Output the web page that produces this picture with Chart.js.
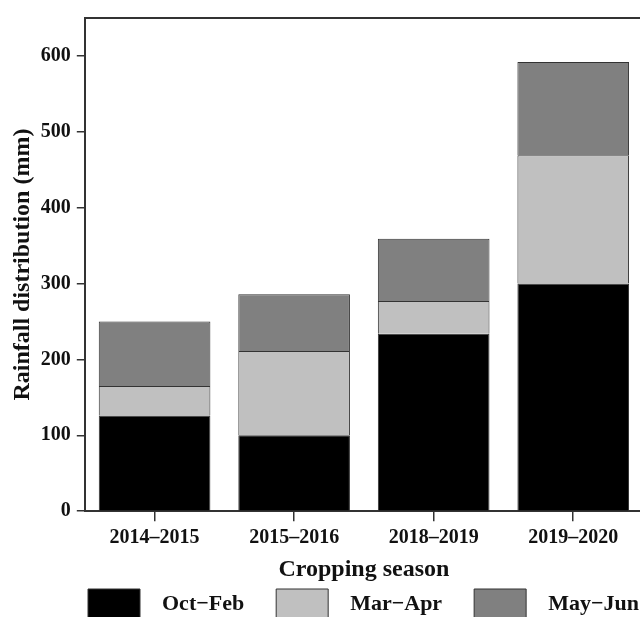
<!DOCTYPE html>
<html>
<head>
<meta charset="utf-8">
<script src="https://cdn.jsdelivr.net/npm/chart.js@4/dist/chart.umd.min.js"></script>
<style>
html, body { margin: 0; padding: 0; background: #fff; overflow: hidden; }
#wrap { width: 720px; height: 640px; }
</style>
</head>
<body>
<div id="wrap"><canvas id="rain"></canvas></div>
<script>
// values (mm)
var seasons = ["2014–2015", "2015–2016", "2018–2019", "2019–2020"];
var octFeb = [126, 100, 234, 300];
var marApr = [39, 111, 43, 169];
var mayJun = [85, 75, 82, 123];
var seriesNames = ["Oct−Feb", "Mar−Apr", "May−Jun"];
var yTicks = [0, 100, 200, 300, 400, 500, 600];

Chart.defaults.font.family = "'Liberation Serif', 'Times New Roman', serif";
Chart.defaults.font.weight = "bold";
Chart.defaults.color = "#111";

// push legend over so it lines up under the plot like the original
var legendShift = {
    id: "legendShift",
    afterLayout: function (chart) {
        chart.legend.left += 52;
    }
};

var ctx = document.getElementById("rain").getContext("2d");

new Chart(ctx, {
    type: "bar",
    data: {
        labels: seasons,
        datasets: [
            { label: seriesNames[0], data: octFeb, backgroundColor: "#000000", borderColor: "#333333", borderWidth: 1 },
            { label: seriesNames[1], data: marApr, backgroundColor: "#c0c0c0", borderColor: "#333333", borderWidth: 1 },
            { label: seriesNames[2], data: mayJun, backgroundColor: "#808080", borderColor: "#333333", borderWidth: 1 }
        ]
    },
    options: {
        responsive: true,
        maintainAspectRatio: false,
        animation: false,
        barPercentage: 0.8,
        categoryPercentage: 1.0,
        layout: { padding: { left: 4, right: 0, top: 11, bottom: 11 } },
        plugins: {
            tooltip: { enabled: false },
            legend: {
                position: "bottom",
                align: "start",
                labels: {
                    boxWidth: 52,
                    boxHeight: 30,
                    padding: 32,
                    font: { size: 22, weight: "bold" },
                    generateLabels: function (chart) {
                        var items = Chart.defaults.plugins.legend.labels.generateLabels(chart);
                        items.forEach(function (it) { it.text = "  " + it.text; });
                        return items;
                    }
                }
            }
        },
        scales: {
            x: {
                stacked: true,
                grid: { offset: false, drawOnChartArea: false, tickLength: 10, color: "#333", lineWidth: 1.5 },
                border: { color: "#333", width: 2 },
                ticks: { padding: 5, font: { size: 20, weight: "bold" }, color: "#111" },
                title: {
                    display: true,
                    text: "Cropping season",
                    font: { size: 24, weight: "bold" },
                    color: "#111",
                    padding: { top: 0, bottom: -27 }
                }
            },
            x2: {
                position: "top",
                grid: { display: false, drawTicks: false },
                ticks: { display: false },
                border: { color: "#333", width: 2 }
            },
            y: {
                stacked: true,
                min: 0,
                max: 650,
                afterBuildTicks: function (scale) {
                    scale.ticks = yTicks.map(function (v) { return { value: v }; });
                },
                grid: { drawOnChartArea: false, tickLength: 8, color: "#333", lineWidth: 1.5 },
                border: { color: "#333", width: 2 },
                ticks: { padding: 6, font: { size: 20, weight: "bold" }, color: "#111" },
                title: {
                    display: true,
                    text: "Rainfall distribution (mm)",
                    font: { size: 24, weight: "bold" },
                    color: "#111",
                    padding: { top: 4, bottom: -2 }
                }
            },
            // empty right gutter: the original figure is cropped just past the plot edge
            y2: {
                display: true,
                position: "right",
                grid: { display: false, drawTicks: false },
                border: { display: false },
                ticks: { display: false },
                afterFit: function (scale) { scale.width = 77; }
            }
        }
    },
    plugins: [legendShift]
});
</script>
</body>
</html>
